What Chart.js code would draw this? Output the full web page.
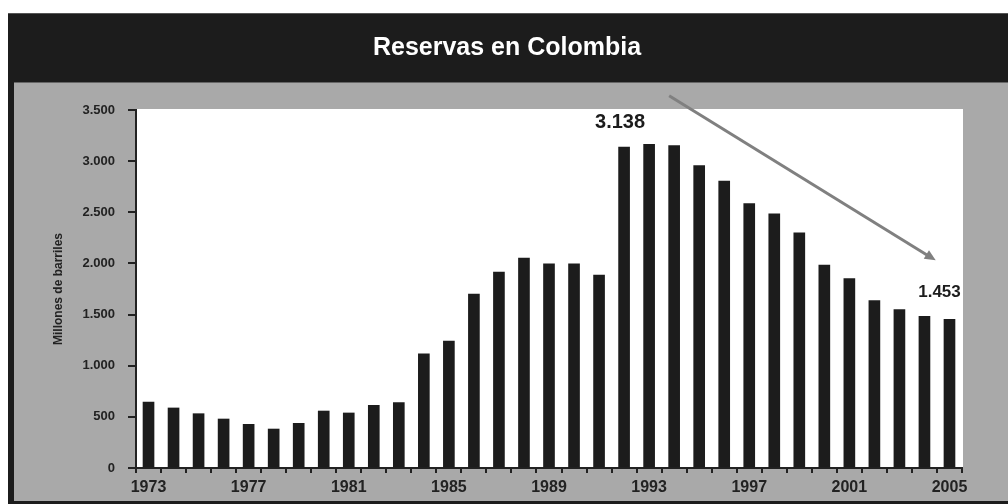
<!DOCTYPE html>
<html>
<head>
<meta charset="utf-8">
<style>
  html, body { margin: 0; padding: 0; background: #fff; }
  #wrap { width: 1008px; height: 504px; }
</style>
<script src="https://cdn.jsdelivr.net/npm/chart.js@4/dist/chart.umd.min.js"></script>
</head>
<body>
<div id="wrap"><canvas id="reservas" width="1008" height="504"></canvas></div>
<script>
// Reservas probadas de petróleo, millones de barriles
const anios = [];
for (let a = 1973; a <= 2005; a++) anios.push(String(a));

const reservas = [
  645, 587, 531, 479, 427, 381, 437, 557, 538, 613, 639,
  1115, 1242, 1701, 1916, 2053, 1995, 1995, 1887, 3138, 3165,
  3151, 2956, 2806, 2584, 2486, 2298, 1985, 1852, 1636, 1548,
  1483, 1453
];

const ticksY = [0, 500, 1000, 1500, 2000, 2500, 3000, 3500];
const aniosRotulados = ['1973', '1977', '1981', '1985', '1989', '1993', '1997', '2001', '2005'];

// valores destacados sobre las barras
const destacados = ['1992', '2005'];

const fuente = '"Liberation Sans", Arial, sans-serif';
const fmt = v => String(v).replace(/\B(?=(\d{3})+(?!\d))/g, '.');

const marco = {
  id: 'marco',
  beforeDraw(chart) {
    const { ctx, width, height, chartArea } = chart;
    ctx.save();
    ctx.fillStyle = '#ffffff';
    ctx.fillRect(0, 0, width, height);
    // banda oscura y bordes
    ctx.fillStyle = '#1c1c1c';
    ctx.fillRect(8, 13, width - 8, height - 13);
    ctx.fillStyle = '#555';
    ctx.fillRect(8, 13, width - 8, 1);
    // panel gris
    ctx.fillStyle = '#a9a9a9';
    ctx.fillRect(14, 82, width - 14, 419);
    ctx.fillStyle = '#666';
    ctx.fillRect(14, 82, width - 14, 1);
    // área blanca del gráfico
    ctx.fillStyle = '#ffffff';
    ctx.fillRect(chartArea.left, chartArea.top - 1, chartArea.right - chartArea.left + 1, chartArea.bottom - chartArea.top + 1);
    // título
    ctx.fillStyle = '#ffffff';
    ctx.font = 'bold 25px ' + fuente;
    ctx.textAlign = 'center';
    ctx.textBaseline = 'middle';
    ctx.fillText('Reservas en Colombia', 507, 48);
    ctx.restore();
  },
  afterDatasetsDraw(chart) {
    const { ctx, scales: { x, y } } = chart;
    ctx.save();
    // rótulos de valor
    ctx.fillStyle = '#1c1c1c';
    ctx.textAlign = 'center';
    ctx.textBaseline = 'middle';
    destacados.forEach((anio, k) => {
      const i = anios.indexOf(anio);
      const v = reservas[i];
      ctx.font = (k === 0 ? 'bold 20px ' : 'bold 17px ') + fuente;
      const dx = k === 0 ? -4 : -10;
      const dy = k === 0 ? -25 : -27;
      ctx.fillText(fmt(v), x.getPixelForValue(i) + dx, y.getPixelForValue(v) + dy);
    });
    // flecha de tendencia
    const x0 = x.getPixelForValue(20.8), y0 = y.getPixelForValue(3640);
    const x1 = x.getPixelForValue(31.45), y1 = y.getPixelForValue(2030);
    const ang = Math.atan2(y1 - y0, x1 - x0);
    ctx.strokeStyle = '#808080';
    ctx.fillStyle = '#808080';
    ctx.lineWidth = 3;
    ctx.beginPath();
    ctx.moveTo(x0, y0);
    ctx.lineTo(x1 - 6 * Math.cos(ang), y1 - 6 * Math.sin(ang));
    ctx.stroke();
    ctx.beginPath();
    ctx.moveTo(x1, y1);
    ctx.lineTo(x1 - 11 * Math.cos(ang) + 5 * Math.sin(ang), y1 - 11 * Math.sin(ang) - 5 * Math.cos(ang));
    ctx.lineTo(x1 - 11 * Math.cos(ang) - 5 * Math.sin(ang), y1 - 11 * Math.sin(ang) + 5 * Math.cos(ang));
    ctx.closePath();
    ctx.fill();
    ctx.restore();
  }
};

new Chart(document.getElementById('reservas'), {
  type: 'bar',
  data: {
    labels: anios,
    datasets: [{
      data: reservas,
      backgroundColor: '#1c1c1c',
      borderWidth: 0,
      barThickness: 11
    }]
  },
  options: {
    responsive: false,
    animation: false,
    events: [],
    layout: { padding: { left: 14, right: 46, top: 110, bottom: 3 } },
    plugins: {
      legend: { display: false },
      title: { display: false },
      tooltip: { enabled: false }
    },
    scales: {
      x: {
        afterFit(s) { s.height = 33; },
        border: { color: '#222', width: 2 },
        grid: { drawOnChartArea: false, color: '#222', tickLength: 5, lineWidth: 2 },
        ticks: {
          autoSkip: false,
          maxRotation: 0,
          padding: 5,
          color: '#222',
          font: { family: fuente, size: 16, weight: 'bold' },
          callback(v) {
            const l = this.getLabelForValue(v);
            return aniosRotulados.includes(l) ? l : '';
          }
        }
      },
      y: {
        min: 0,
        max: 3500,
        afterFit(s) { s.width = 122; },
        afterBuildTicks(s) { s.ticks = ticksY.map(v => ({ value: v })); },
        border: { color: '#222', width: 2 },
        grid: { drawOnChartArea: false, color: '#222', tickLength: 8, lineWidth: 2 },
        title: {
          display: true,
          text: 'Millones de barriles',
          color: '#222',
          padding: { top: 37, bottom: 0 },
          font: { family: fuente, size: 12, weight: 'bold' }
        },
        ticks: {
          padding: 13,
          color: '#222',
          font: { family: fuente, size: 13, weight: 'bold' },
          callback: v => fmt(v)
        }
      }
    }
  },
  plugins: [marco]
});
</script>
</body>
</html>
